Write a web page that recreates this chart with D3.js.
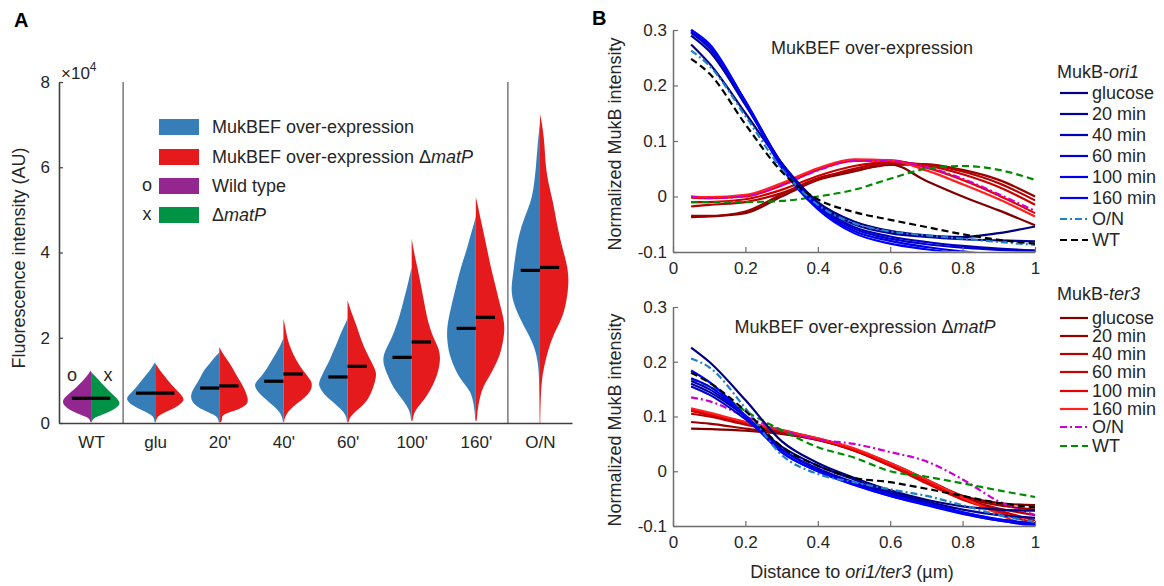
<!DOCTYPE html>
<html><head><meta charset="utf-8">
<script src="https://cdn.jsdelivr.net/npm/d3@7"></script>
<style>
body{margin:0;background:#fff}
svg{display:block}
text{font-family:"Liberation Sans",Arial,Helvetica,sans-serif;fill:#262626}
</style>
</head><body>
<svg id="fig" width="1164" height="586"></svg>
<script>
// ---------- Panel A: split violins of MukB fluorescence (x10^4 AU) ----------
const groups = ["WT", "glu", "20'", "40'", "60'", "100'", "160'", "O/N"];
const medianLeft  = [0.58, 0.70, 0.82, 0.98, 1.08, 1.54, 2.22, 3.58];
const medianRight = [0.58, 0.70, 0.87, 1.15, 1.33, 1.90, 2.48, 3.65];
// density profiles: [intensity, relative half-width]
const profileLeft = [
  [[0.02,0.02],[0.1,0.05],[0.15,0.2],[0.2,0.4],[0.3,0.72],[0.4,0.92],[0.5,1.0],[0.6,0.92],[0.75,0.65],[0.9,0.42],[1.0,0.28],[1.1,0.14],[1.2,0.04],[1.24,0]],
  [[0.02,0.02],[0.12,0.04],[0.2,0.15],[0.3,0.45],[0.4,0.75],[0.5,0.95],[0.6,1.0],[0.7,0.85],[0.8,0.7],[0.95,0.53],[1.1,0.35],[1.2,0.22],[1.3,0.12],[1.4,0.03],[1.43,0]],
  [[0.02,0.02],[0.12,0.04],[0.2,0.2],[0.3,0.55],[0.4,0.8],[0.5,0.95],[0.65,1.0],[0.8,0.9],[1.0,0.7],[1.17,0.6],[1.3,0.45],[1.47,0.25],[1.6,0.08],[1.66,0]],
  [[0.02,0.02],[0.15,0.04],[0.3,0.18],[0.4,0.35],[0.55,0.6],[0.7,0.85],[0.85,1.0],[0.95,0.98],[1.1,0.75],[1.3,0.55],[1.5,0.38],[1.7,0.2],[1.9,0.05],[2.0,0]],
  [[0.02,0.02],[0.15,0.04],[0.27,0.14],[0.4,0.35],[0.54,0.6],[0.7,0.85],[0.85,0.98],[0.95,1.0],[1.1,0.9],[1.31,0.75],[1.5,0.6],[1.71,0.48],[1.9,0.35],[2.1,0.24],[2.3,0.1],[2.45,0]],
  [[0.05,0.02],[0.2,0.04],[0.35,0.12],[0.54,0.31],[0.75,0.55],[0.94,0.72],[1.15,0.85],[1.35,0.97],[1.55,1.0],[1.75,0.88],[2.1,0.62],[2.5,0.42],[2.88,0.28],[3.2,0.15],[3.45,0.07],[3.65,0]],
  [[0.05,0.02],[0.3,0.04],[0.55,0.1],[0.75,0.2],[0.94,0.42],[1.1,0.6],[1.31,0.75],[1.6,0.92],[1.95,1.0],[2.25,1.0],[2.6,0.9],[2.88,0.8],[3.3,0.65],[3.65,0.52],[4.05,0.32],[4.44,0.17],[4.7,0.05],[4.85,0]],
  [[0.0,0.01],[0.5,0.02],[1.0,0.03],[1.31,0.05],[1.71,0.14],[2.1,0.41],[2.48,0.72],[2.88,0.95],[3.15,1.0],[3.5,0.93],[4.05,0.83],[4.44,0.72],[4.8,0.55],[5.2,0.3],[5.6,0.2],[6.0,0.14],[6.5,0.08],[6.8,0.04],[7.05,0]]
];
const profileRight = [
  [[0.02,0.02],[0.1,0.06],[0.15,0.22],[0.2,0.42],[0.3,0.75],[0.4,0.95],[0.46,1.0],[0.55,0.95],[0.7,0.7],[0.85,0.48],[1.0,0.28],[1.1,0.14],[1.17,0.04],[1.2,0]],
  [[0.02,0.02],[0.12,0.05],[0.2,0.18],[0.3,0.5],[0.4,0.8],[0.5,0.97],[0.58,1.0],[0.7,0.85],[0.8,0.7],[0.95,0.5],[1.1,0.33],[1.2,0.2],[1.3,0.1],[1.38,0.02],[1.4,0]],
  [[0.02,0.06],[0.08,0.1],[0.15,0.08],[0.22,0.2],[0.3,0.6],[0.4,0.9],[0.5,1.0],[0.6,0.98],[0.75,0.9],[0.93,0.78],[1.1,0.6],[1.31,0.45],[1.5,0.25],[1.65,0.1],[1.78,0]],
  [[0.02,0.02],[0.15,0.05],[0.3,0.2],[0.45,0.45],[0.6,0.75],[0.75,0.95],[0.9,1.0],[1.0,0.95],[1.15,0.78],[1.3,0.6],[1.5,0.42],[1.7,0.28],[1.9,0.17],[2.1,0.1],[2.3,0.05],[2.45,0]],
  [[0.02,0.03],[0.14,0.08],[0.25,0.25],[0.37,0.45],[0.5,0.65],[0.7,0.82],[0.9,0.92],[1.05,0.98],[1.2,1.0],[1.4,0.85],[1.71,0.62],[1.9,0.5],[2.1,0.4],[2.3,0.3],[2.48,0.2],[2.7,0.08],[2.88,0]],
  [[0.05,0.03],[0.2,0.06],[0.37,0.2],[0.6,0.5],[0.94,0.78],[1.2,0.92],[1.5,1.0],[1.75,0.95],[2.1,0.68],[2.5,0.52],[2.88,0.42],[3.3,0.3],[3.65,0.2],[4.0,0.08],[4.33,0]],
  [[0.05,0.03],[0.3,0.06],[0.54,0.12],[0.75,0.2],[0.94,0.32],[1.1,0.48],[1.31,0.64],[1.6,0.85],[2.0,0.97],[2.25,1.0],[2.5,0.95],[2.88,0.8],[3.3,0.65],[3.65,0.52],[4.05,0.4],[4.44,0.28],[4.8,0.16],[5.1,0.07],[5.3,0]],
  [[0.0,0.01],[0.5,0.02],[1.0,0.06],[1.31,0.14],[1.71,0.28],[2.1,0.48],[2.48,0.79],[2.88,0.93],[3.27,1.0],[3.65,0.97],[4.05,0.8],[4.44,0.66],[4.8,0.55],[5.2,0.45],[5.6,0.3],[6.0,0.2],[6.5,0.16],[6.8,0.12],[7.1,0.05],[7.25,0]]
];
const yTicksA = [0, 2, 4, 6, 8];
const legendA = ["MukBEF over-expression", "MukBEF over-expression \u0394matP", "Wild type", "\u0394matP"];

// ---------- Panel B: normalized MukB intensity profiles ----------
const distance = [0.05, 0.1, 0.2, 0.3, 0.4, 0.5, 0.6, 0.7, 0.8, 0.9, 1.0];
const seriesNames = ["glucose", "20 min", "40 min", "60 min", "100 min", "160 min", "O/N", "WT"];
const ori1Top = [
  [0.274,0.24,0.15,0.06,-0.01,-0.045,-0.062,-0.07,-0.073,-0.066,-0.054],
  [0.29,0.262,0.165,0.06,-0.012,-0.05,-0.066,-0.073,-0.077,-0.079,-0.081],
  [0.295,0.268,0.17,0.06,-0.015,-0.055,-0.072,-0.082,-0.089,-0.094,-0.097],
  [0.297,0.27,0.172,0.058,-0.018,-0.058,-0.076,-0.086,-0.092,-0.096,-0.1],
  [0.3,0.272,0.17,0.055,-0.02,-0.062,-0.08,-0.091,-0.099,-0.106,-0.112],
  [0.3,0.275,0.17,0.052,-0.023,-0.066,-0.085,-0.095,-0.103,-0.11,-0.116],
  [0.263,0.236,0.145,0.05,-0.015,-0.048,-0.063,-0.07,-0.076,-0.082,-0.087],
  [0.248,0.222,0.13,0.045,-0.005,-0.028,-0.042,-0.055,-0.068,-0.078,-0.085]
];
const ter3Top = [
  [-0.037,-0.036,-0.03,0.0,0.03,0.045,0.058,0.028,0.0,-0.025,-0.052],
  [-0.035,-0.035,-0.027,0.004,0.033,0.047,0.057,0.058,0.048,0.03,0.0],
  [-0.018,-0.015,-0.01,0.006,0.031,0.05,0.06,0.058,0.045,0.024,-0.007],
  [-0.01,-0.01,-0.005,0.012,0.037,0.055,0.062,0.056,0.04,0.017,-0.015],
  [-0.002,-0.003,0.0,0.02,0.048,0.064,0.065,0.052,0.03,0.002,-0.03],
  [0.0,-0.001,0.003,0.024,0.051,0.067,0.065,0.047,0.022,-0.005,-0.036],
  [0.0,-0.003,0.0,0.02,0.047,0.064,0.064,0.053,0.032,0.004,-0.026],
  [-0.01,-0.01,-0.01,-0.008,0.0,0.012,0.032,0.05,0.055,0.048,0.03]
];
const ori1Bottom = [
  [0.226,0.2,0.13,0.055,0.015,-0.012,-0.035,-0.052,-0.064,-0.07,-0.072],
  [0.16,0.145,0.1,0.045,0.01,-0.015,-0.038,-0.055,-0.07,-0.08,-0.085],
  [0.165,0.15,0.1,0.04,0.005,-0.02,-0.04,-0.058,-0.075,-0.088,-0.095],
  [0.155,0.14,0.095,0.04,0.003,-0.022,-0.043,-0.06,-0.077,-0.09,-0.098],
  [0.17,0.155,0.1,0.035,0.0,-0.024,-0.045,-0.062,-0.078,-0.09,-0.1],
  [0.184,0.163,0.102,0.035,0.0,-0.025,-0.045,-0.06,-0.075,-0.088,-0.097],
  [0.206,0.19,0.115,0.03,-0.005,-0.02,-0.033,-0.045,-0.062,-0.08,-0.093],
  [0.18,0.162,0.11,0.045,0.01,-0.012,-0.02,-0.032,-0.045,-0.058,-0.066]
];
const ter3Bottom = [
  [0.078,0.077,0.074,0.068,0.057,0.04,0.015,-0.015,-0.045,-0.058,-0.062],
  [0.09,0.087,0.078,0.07,0.057,0.038,0.012,-0.018,-0.048,-0.062,-0.07],
  [0.105,0.1,0.085,0.072,0.058,0.038,0.01,-0.02,-0.05,-0.068,-0.08],
  [0.11,0.103,0.088,0.073,0.058,0.038,0.01,-0.022,-0.052,-0.072,-0.09],
  [0.113,0.105,0.09,0.075,0.06,0.04,0.012,-0.02,-0.05,-0.075,-0.095],
  [0.115,0.107,0.09,0.075,0.06,0.042,0.015,-0.015,-0.048,-0.078,-0.108],
  [0.135,0.128,0.1,0.075,0.058,0.05,0.035,0.018,-0.015,-0.055,-0.08],
  [0.168,0.155,0.11,0.075,0.044,0.025,0.0,-0.01,-0.022,-0.035,-0.047]
];
const yTicksB = [-0.1, 0, 0.1, 0.2, 0.3];
const xTicksB = [0, 0.2, 0.4, 0.6, 0.8, 1];

// ---------- styles ----------
const colA = {blue: "#377eb8", red: "#e41a1c", purple: "#93278f", green: "#009245"};
const ori1Colors = ["#000080", "#00009c", "#0000b6", "#0000cf", "#0000e8", "#0000ff", "#1f80c8", "#000000"];
const ter3Colors = ["#800000", "#990000", "#b30000", "#cc0000", "#e60000", "#ff2020", "#cc00cc", "#008c00"];
const dashes = [null, null, null, null, null, null, "7,3,2,3", "7,4"];

const svg = d3.select("#fig");
const fs = 18, fsTick = 17;

// panel letters
svg.append("text").attr("x", 14).attr("y", 27).attr("font-size", 20).attr("font-weight", "bold").style("fill", "#000").text("A");
svg.append("text").attr("x", 592).attr("y", 25).attr("font-size", 20).attr("font-weight", "bold").style("fill", "#000").text("B");

// ===== Panel A =====
const xA = d3.scaleLinear().domain([0.5, 8.5]).range([59, 572]);
const yA = d3.scaleLinear().domain([0, 8]).range([423, 82]);
const halfWidth = 0.45; // in category units

const gA = svg.append("g");
groups.forEach((name, i) => {
  const c = i + 1;
  const cx = xA(c);
  const w = xA(c + halfWidth) - cx;
  const leftCol = i === 0 ? colA.purple : colA.blue;
  const rightCol = i === 0 ? colA.green : colA.red;
  const leftArea = d3.area().curve(d3.curveBasis)
    .y(d => yA(d[0])).x0(d => cx - w * d[1]).x1(cx);
  const rightArea = d3.area().curve(d3.curveBasis)
    .y(d => yA(d[0])).x0(cx).x1(d => cx + w * d[1]);
  gA.append("path").attr("d", leftArea(profileLeft[i])).attr("fill", leftCol);
  gA.append("path").attr("d", rightArea(profileRight[i])).attr("fill", rightCol);
});
// medians
const barLen = 0.3;
groups.forEach((name, i) => {
  const c = i + 1;
  gA.append("line").attr("x1", xA(c - barLen)).attr("x2", xA(c)).attr("y1", yA(medianLeft[i])).attr("y2", yA(medianLeft[i]))
    .attr("stroke", "#000").attr("stroke-width", 3.2);
  gA.append("line").attr("x1", xA(c)).attr("x2", xA(c + barLen)).attr("y1", yA(medianRight[i])).attr("y2", yA(medianRight[i]))
    .attr("stroke", "#000").attr("stroke-width", 3.2);
});
// group separators
[1.5, 7.5].forEach(p => {
  gA.append("line").attr("x1", xA(p)).attr("x2", xA(p)).attr("y1", yA(8)).attr("y2", yA(0))
    .attr("stroke", "#808080").attr("stroke-width", 1.6);
});
// axes
const axA_y = gA.append("g").attr("transform", `translate(${xA(0.5)},0)`)
  .call(d3.axisLeft(yA).tickValues(yTicksA).tickSize(-4).tickSizeOuter(0).tickPadding(9));
const axA_x = gA.append("g").attr("transform", `translate(0,${yA(0)})`)
  .call(d3.axisBottom(xA).tickValues(d3.range(1, 9)).tickFormat(i => groups[i - 1]).tickSize(0).tickPadding(13));
[axA_y, axA_x].forEach(a => {
  a.select(".domain").attr("stroke", "#404040").attr("stroke-width", 1.6);
  a.selectAll(".tick line").attr("stroke", "#404040").attr("stroke-width", 1.2);
  a.selectAll(".tick text").attr("font-size", fsTick).style("font-family", "Liberation Sans, Arial, sans-serif").attr("fill", "#262626");
});
// exponent
const expT = gA.append("text").attr("x", 61).attr("y", 79).attr("font-size", 17);
expT.append("tspan").text("\u00d710");
expT.append("tspan").attr("font-size", 12).attr("dy", -8).text("4");
// y title
gA.append("text").attr("transform", "translate(25,258) rotate(-90)").attr("text-anchor", "middle")
  .attr("font-size", fs).text("Fluorescence intensity (AU)");
// o / x markers near WT
gA.append("text").attr("x", xA(1) - 19).attr("y", 375).attr("dy", "0.35em").attr("text-anchor", "middle").attr("font-size", fs).text("o");
gA.append("text").attr("x", xA(1) + 17).attr("y", 375).attr("dy", "0.35em").attr("text-anchor", "middle").attr("font-size", fs).text("x");

// legend A
const legColors = [colA.blue, colA.red, colA.purple, colA.green];
const legMarks = ["", "", "o", "x"];
const legY = [127, 157, 186, 215];
function richText(sel, str) {
  // \u0394matP : Delta upright, gene name italic
  const idx = str.indexOf("\u0394matP");
  if (idx < 0) { sel.text(str); return; }
  sel.append("tspan").text(str.slice(0, idx) + "\u0394");
  sel.append("tspan").attr("font-style", "italic").text("matP");
}
legendA.forEach((lab, i) => {
  gA.append("rect").attr("x", 159).attr("y", legY[i] - 8).attr("width", 40).attr("height", 16).attr("fill", legColors[i]);
  const t = gA.append("text").attr("x", 212).attr("y", legY[i]).attr("dy", "0.35em").attr("font-size", fs);
  richText(t, lab);
  if (legMarks[i]) gA.append("text").attr("x", 147).attr("y", legY[i]).attr("dy", "0.3em").attr("text-anchor", "middle").attr("font-size", fs).text(legMarks[i]);
});

// ===== Panel B =====
const xB = d3.scaleLinear().domain([0, 1]).range([673, 1035]);
const subplots = [
  {y: d3.scaleLinear().domain([-0.1, 0.3]).range([252, 30]), ori1: ori1Top, ter3: ter3Top,
   title: "MukBEF over-expression", titleY: 54, titleX: 872, labelY: 144},
  {y: d3.scaleLinear().domain([-0.1, 0.3]).range([526, 307]), ori1: ori1Bottom, ter3: ter3Bottom,
   title: "MukBEF over-expression \u0394matP", titleY: 333, titleX: 865, labelY: 420}
];
const fmtB = d => d === 0 ? "0" : (d3.format(".1f")(d)).replace("\u2212", "-");

subplots.forEach((sp, k) => {
  const g = svg.append("g");
  const clipId = "clipB" + k;
  svg.append("clipPath").attr("id", clipId).append("rect")
    .attr("x", xB(0)).attr("y", sp.y(0.3) - 2).attr("width", xB(1) - xB(0) + 2).attr("height", sp.y(-0.1) - sp.y(0.3) + 1.5);
  const plot = g.append("g").attr("clip-path", `url(#${clipId})`);
  const line = d3.line().curve(d3.curveMonotoneX).x((d, j) => xB(distance[j])).y(d => sp.y(d));
  const drawSet = (set, colors) => set.forEach((vals, j) => {
    plot.append("path").attr("d", line(vals)).attr("fill", "none")
      .attr("stroke", colors[j]).attr("stroke-width", 2.2)
      .attr("stroke-dasharray", dashes[j]).attr("stroke-linejoin", "round");
  });
  drawSet(sp.ter3, ter3Colors);
  drawSet(sp.ori1, ori1Colors);

  const ay = g.append("g").attr("transform", `translate(${xB(0)},0)`)
    .call(d3.axisLeft(sp.y).tickValues(yTicksB).tickFormat(fmtB).tickSize(-5).tickSizeOuter(0).tickPadding(6));
  const ax = g.append("g").attr("transform", `translate(0,${sp.y(-0.1)})`)
    .call(d3.axisBottom(xB).tickValues(xTicksB).tickFormat(d => d === 0 || d === 1 ? String(d) : d3.format(".1f")(d)).tickSize(-5).tickSizeOuter(0).tickPadding(10));
  [ay, ax].forEach(a => {
    a.select(".domain").attr("stroke", "#6e6e6e").attr("stroke-width", 1.5);
    a.selectAll(".tick line").attr("stroke", "#6e6e6e").attr("stroke-width", 1.2);
    a.selectAll(".tick text").attr("font-size", fsTick).style("font-family", "Liberation Sans, Arial, sans-serif").attr("fill", "#262626");
  });
  const tt = g.append("text").attr("x", sp.titleX).attr("y", sp.titleY).attr("text-anchor", "middle").attr("font-size", fs);
  richText(tt, sp.title);
  g.append("text").attr("transform", `translate(621,${sp.labelY}) rotate(-90)`).attr("text-anchor", "middle")
    .attr("font-size", fs).text("Normalized MukB intensity");
});
// x title
const xt = svg.append("text").attr("x", 852).attr("y", 578).attr("text-anchor", "middle").attr("font-size", fs);
xt.append("tspan").text("Distance to ");
xt.append("tspan").attr("font-style", "italic").text("ori1/ter3");
xt.append("tspan").text(" (\u00b5m)");

// legends B
function legendB(header, headerY, rowsY, colors) {
  const g = svg.append("g");
  const h = g.append("text").attr("x", 1057).attr("y", headerY).attr("dy", "0.35em").attr("font-size", fs);
  h.append("tspan").text("MukB-");
  h.append("tspan").attr("font-style", "italic").text(header);
  seriesNames.forEach((n, j) => {
    g.append("line").attr("x1", 1060).attr("x2", 1088).attr("y1", rowsY[j]).attr("y2", rowsY[j])
      .attr("stroke", colors[j]).attr("stroke-width", 2.2).attr("stroke-dasharray", dashes[j]);
    g.append("text").attr("x", 1092).attr("y", rowsY[j]).attr("dy", "0.35em").attr("font-size", fs).text(n);
  });
}
legendB("ori1", 72, [93, 114, 135, 156, 177, 198, 219, 240], ori1Colors);
legendB("ter3", 294, [318, 336, 354, 372, 391, 409, 427, 446], ter3Colors);
</script>
</body></html>
